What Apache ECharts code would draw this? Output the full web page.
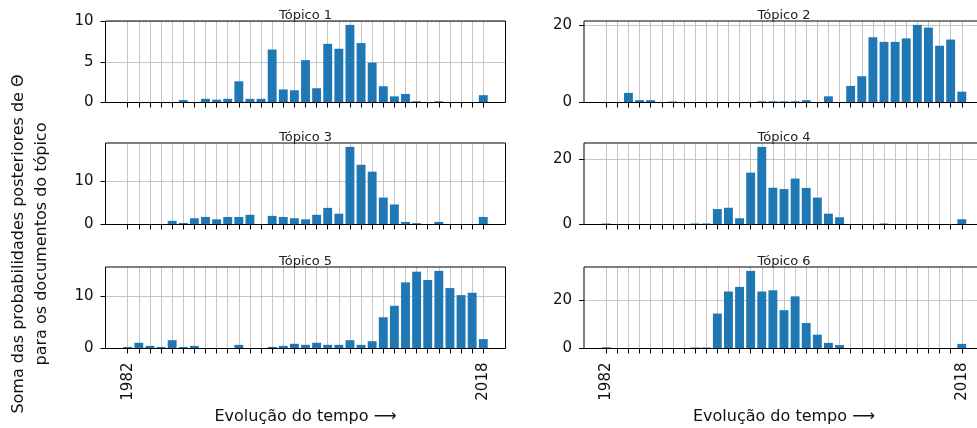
<!DOCTYPE html>
<html><head><meta charset="utf-8">
<script src="https://cdn.jsdelivr.net/npm/echarts@6/dist/echarts.min.js"></script>
<style>html,body{margin:0;padding:0;background:#fff}#c{width:977px;height:428px}</style>
</head><body><div id="c"></div>
<script>
// Categories: years present in the corpus (33 positions, first 1982, last 2018)
const years = [1982,1983,1985,1987,1989,1991,1992,1993,1994,1995,1996,1997,1998,1999,2000,2001,2002,2003,2004,2005,2006,2007,2008,2009,2010,2011,2012,2013,2014,2015,2016,2017,2018];
const shownYears = [1982, 2018];
const titles = ['Tópico 1','Tópico 2','Tópico 3','Tópico 4','Tópico 5','Tópico 6'];
const topic1 = [0,0,0,0,0,0.3,0,0.45,0.35,0.45,2.6,0.45,0.45,6.5,1.6,1.5,5.2,1.75,7.2,6.6,9.53,7.3,4.9,2.0,0.75,1.05,0.15,0,0.15,0,0,0,0.9];
const topic2 = [0,0,2.5,0.6,0.6,0,0.25,0,0,0,0,0,0,0,0.3,0.3,0.3,0.3,0.6,0,1.6,0,4.3,6.8,16.9,15.7,15.7,16.6,20.1,19.4,14.7,16.3,2.8];
const topic3 = [0,0,0,0,0.85,0.35,1.45,1.75,1.2,1.75,1.75,2.25,0,2.0,1.75,1.45,1.2,2.25,3.85,2.5,18.0,13.85,12.25,6.25,4.65,0.6,0.3,0,0.6,0,0,0,1.75];
const topic4 = [0.3,0,0,0,0,0,0,0,0.3,0.3,4.7,5.1,1.9,15.8,23.65,11.2,10.8,14.0,11.15,8.2,3.3,2.2,0,0,0,0.3,0,0,0,0,0,0,1.6];
const topic5 = [0.3,1.1,0.5,0.3,1.6,0.3,0.5,0,0,0,0.7,0,0,0.3,0.5,0.9,0.7,1.1,0.7,0.7,1.6,0.7,1.4,6.0,8.2,12.7,14.75,13.15,14.9,11.6,10.25,10.7,1.8];
const topic6 = [0.5,0,0,0,0,0,0,0,0.4,0.4,14.4,23.5,25.4,32.0,23.5,24.0,15.8,21.5,10.5,5.7,2.3,1.4,0,0,0,0,0,0,0,0,0,0,1.9];
const yStep = [5,20,10,20,10,20];

const topics = [topic1,topic2,topic3,topic4,topic5,topic6];
const PAD = 2;
const axisData = [...Array(PAD).fill(''), ...years.map(String), ...Array(PAD).fill('')];
const inRange = i => i >= PAD && i < PAD + years.length;

const colLeft = [105.5, 584];
const gridW = 400;
const rowTop = [21, 143, 267];
const gridH = 81.5;
const FONT = 'DejaVu Sans';

const grid = [], xAxis = [], yAxis = [], series = [], title = [];
topics.forEach((vals, k) => {
  const row = Math.floor(k / 2), col = k % 2;
  const bottomRow = row === 2;
  grid.push({left: colLeft[col], top: rowTop[row], width: gridW, height: gridH,
    show: true, borderColor: '#000', borderWidth: 1, backgroundColor: 'transparent',
    z: 3, outerBoundsMode: 'none', containLabel: false});
  const dmax = Math.max(...vals) * 1.05;
  const ticks = [];
  for (let v = 0; v <= dmax + yStep[k] * 0.01; v += yStep[k]) ticks.push(v);
  xAxis.push({type: 'category', gridIndex: k, data: axisData, boundaryGap: false,
    axisLine: {show: false},
    axisTick: {show: true, length: 5, interval: (i) => inRange(i), lineStyle: {color: '#000', width: 1}},
    axisLabel: {show: bottomRow, interval: (i, v) => shownYears.map(String).includes(v),
      rotate: 90, margin: 14, fontSize: 15, fontFamily: FONT, color: '#111'},
    splitLine: {show: true, interval: (i) => inRange(i), lineStyle: {color: '#b8b8b8', width: 0.8}},
    name: bottomRow ? 'Evolução do tempo ⟶' : '', nameLocation: 'middle', nameGap: 60,
    nameTextStyle: {fontSize: 16, fontFamily: FONT, color: '#111'}
  });
  yAxis.push({type: 'value', gridIndex: k, min: 0, max: v => v.max * 1.05, interval: yStep[k],
    axisLine: {show: false},
    axisTick: {show: true, length: 5, customValues: ticks, lineStyle: {color: '#000', width: 1}},
    axisLabel: {customValues: ticks, margin: 12, fontSize: 15, fontFamily: FONT, color: '#111',
      formatter: v => String(Math.round(v))},
    splitLine: {show: true, lineStyle: {color: '#b8b8b8', width: 0.8}}
  });
  series.push({type: 'bar', xAxisIndex: k, yAxisIndex: k, barWidth: '80%',
    data: [...Array(PAD).fill(null), ...vals, ...Array(PAD).fill(null)],
    itemStyle: {color: '#1f77b4'}, silent: true, animation: false});
  title.push({text: titles[k], left: colLeft[col] + gridW / 2, textAlign: 'center',
    top: rowTop[row] - 12, padding: 0,
    textStyle: {fontSize: 13, fontWeight: 'normal', fontFamily: FONT, color: '#222'}});
});

const chart = echarts.init(document.getElementById('c'), null, {renderer: 'canvas'});
chart.setOption({
  animation: false,
  backgroundColor: '#fff',
  title, grid, xAxis, yAxis, series,
  graphic: [
    {type: 'text', x: 19, y: 244, rotation: Math.PI / 2,
      style: {text: 'Soma das probabilidades posteriores de Θ', font: '16px "DejaVu Sans"', fill: '#111', textAlign: 'center', textVerticalAlign: 'middle'}},
    {type: 'text', x: 41.5, y: 244, rotation: Math.PI / 2,
      style: {text: 'para os documentos do tópico', font: '16px "DejaVu Sans"', fill: '#111', textAlign: 'center', textVerticalAlign: 'middle'}}
  ]
});
</script></body></html>
